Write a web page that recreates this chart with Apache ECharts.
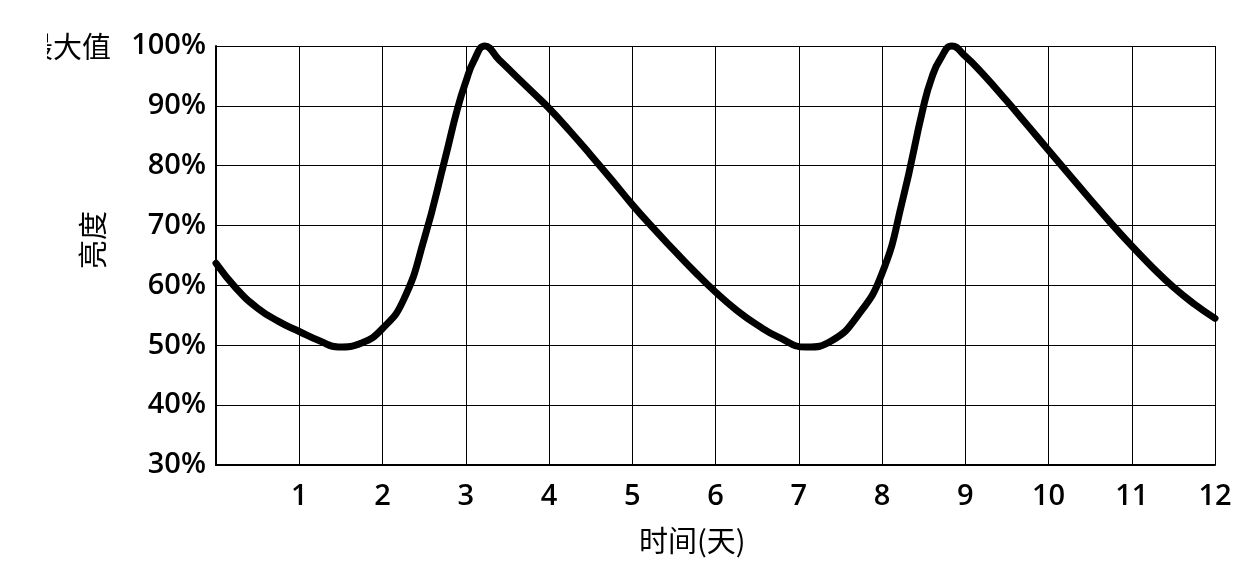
<!DOCTYPE html>
<html>
<head>
<meta charset="utf-8">
<script src="https://cdn.jsdelivr.net/npm/echarts@6/dist/echarts.min.js"></script>
<style>
html,body{margin:0;padding:0;background:#fff;}
#chart{width:1255px;height:571px;}
</style>
</head>
<body>
<div id="chart"></div>
<script>
// Data
const dayValues = [0, 0.25, 0.5, 0.75, 1, 1.25, 1.47, 1.75, 2, 2.25, 2.5, 2.75, 2.9, 3.0, 3.1, 3.23, 3.4, 3.6, 3.8, 4, 4.25, 4.5, 4.75, 5, 5.25, 5.5, 5.75, 6, 6.25, 6.5, 6.75, 7.09, 7.4, 7.7, 8, 8.25, 8.5, 8.6, 8.7, 8.84, 9, 9.2, 9.5, 9.75, 10, 10.25, 10.5, 10.75, 11, 11.25, 11.5, 11.75, 12];
const brightness = [63.7, 59.4, 56.2, 54.0, 52.3, 50.7, 49.7, 50.4, 52.8, 57.5, 67.7, 81.1, 89.5, 94.0, 97.6, 100, 97.7, 95.0, 92.3, 89.6, 85.8, 81.8, 77.7, 73.5, 69.6, 65.9, 62.3, 58.9, 55.9, 53.4, 51.4, 49.7, 50.8, 54.8, 62.0, 74.4, 90.0, 94.8, 97.8, 100, 98.3, 95.5, 90.8, 86.7, 82.6, 78.5, 74.4, 70.4, 66.6, 63.0, 59.7, 56.9, 54.5];
const xTicks = ['', '1', '2', '3', '4', '5', '6', '7', '8', '9', '10', '11', '12'];
const yTicks = ['30%', '40%', '50%', '60%', '70%', '80%', '90%', '100%'];
const xName = '时间(天)';
const yName = '亮度';
const topLabel = '最大值';

const points = dayValues.map((d, i) => [d, brightness[i]]);
const chart = echarts.init(document.getElementById('chart'), null, {renderer: 'canvas'});
const latin = '"Open Sans", "Noto Sans", sans-serif';
const cjk = '"Noto Sans CJK SC", "Open Sans", sans-serif';
chart.setOption({
  animation: false,
  backgroundColor: '#fff',
  grid: {left: 216, right: 40, top: 46, bottom: 106, containLabel: false},
  xAxis: {
    type: 'value', min: 0, max: 12, interval: 1,
    axisLine: {show: true, onZero: false, lineStyle: {color: '#000', width: 2}},
    axisTick: {show: false},
    splitLine: {show: true, lineStyle: {color: '#000', width: 1}},
    axisLabel: {
      margin: 17, color: '#000', fontSize: 29, fontFamily: latin, fontWeight: 600,
      formatter: v => xTicks[Math.round(v)] || ''
    }
  },
  yAxis: {
    type: 'value', min: 30, max: 100, interval: 10,
    axisLine: {show: true, lineStyle: {color: '#000', width: 2}},
    axisTick: {show: false},
    splitLine: {show: true, lineStyle: {color: '#000', width: 1}},
    axisLabel: {
      margin: 10, color: '#000', fontSize: 29, fontFamily: latin, fontWeight: 600,
      formatter: v => yTicks[Math.round((v - 30) / 10)] || ''
    }
  },
  graphic: [
    {type: 'text', left: 639, top: 526, style: {text: xName, fill: '#000', font: '29px ' + cjk}},
    {type: 'text', x: 93, y: 240, rotation: Math.PI / 2,
     style: {text: yName, fill: '#000', font: '29px ' + cjk, align: 'center', verticalAlign: 'middle'}},
    {type: 'text', x: 111, y: 47, style: {text: topLabel, fill: '#000', font: '29px ' + cjk, align: 'right', verticalAlign: 'middle'}},
    {type: 'rect', shape: {x: 0, y: 20, width: 47, height: 60}, style: {fill: '#fff'}, z: 100}
  ],
  series: [{
    type: 'line',
    data: points,
    smooth: 0.5,
    showSymbol: false,
    symbol: 'none',
    clip: false,
    lineStyle: {color: '#000', width: 7, cap: 'round', join: 'round'}
  }]
});
</script>
</body>
</html>
